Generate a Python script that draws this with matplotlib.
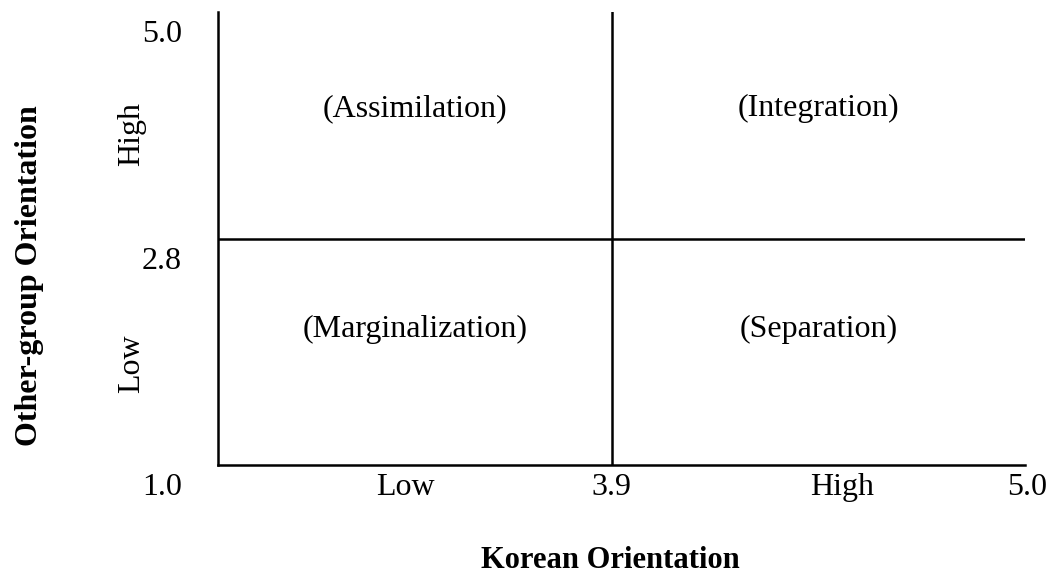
import matplotlib
matplotlib.use("Agg")
import matplotlib.pyplot as plt

# acculturation quadrants: cut points on each orientation scale
x_range = [1.0, 5.0]
x_cut = 3.9
y_range = [1.0, 5.0]
y_cut = 2.8

x_labels = ["Low", "High"]
y_labels = ["Low", "High"]
quadrants = [["(Marginalization)", "(Separation)"],
             ["(Assimilation)", "(Integration)"]]

plt.rcParams["font.family"] = ["Liberation Serif", "DejaVu Serif"]
FS = 23

W, H = 1057, 574
fig = plt.figure(figsize=(W / 100, H / 100), dpi=100)
ax = fig.add_axes([218 / W, 1 - 465 / H, 807 / W, 453 / H])
ax.set_xlim(0, 1)
ax.set_ylim(0, 1)

# schematic positions of the cut points (the scale is not linear in the figure)
xc, yc = 0.488, 0.499

for s in ["top", "right"]:
    ax.spines[s].set_visible(False)
for s in ["left", "bottom"]:
    ax.spines[s].set_linewidth(1.8)
ax.set_xticks([]); ax.set_yticks([])

ax.axvline(xc, color="black", lw=1.8)
ax.axhline(yc, color="black", lw=1.8)

# quadrant names
for i, yy in enumerate([0.30, 0.787]):
    for j, xx in enumerate([0.244, 0.744]):
        ax.text(xx, yy, quadrants[i][j], ha="center", va="center", fontsize=FS)

# x axis labels
ty = -0.05
ax.text(-0.045, ty, f"{x_range[0]:.1f}", ha="right", va="center", fontsize=FS)
ax.text(0.232, ty, x_labels[0], ha="center", va="center", fontsize=FS)
ax.text(xc, ty, f"{x_cut:.1f}", ha="center", va="center", fontsize=FS)
ax.text(0.774, ty, x_labels[1], ha="center", va="center", fontsize=FS)
ax.text(1.027, ty, f"{x_range[1]:.1f}", ha="right", va="center", fontsize=FS)

# y axis labels
ax.text(-0.045, 0.951, f"{y_range[1]:.1f}", ha="right", va="center", fontsize=FS)
ax.text(-0.045, 0.450, f"{y_cut:.1f}", ha="right", va="center", fontsize=FS)
ax.text(-0.107, 0.223, y_labels[0], ha="center", va="center", rotation=90, fontsize=FS)
ax.text(-0.107, 0.731, y_labels[1], ha="center", va="center", rotation=90, fontsize=FS)

fig.text(610 / W, 1 - 561 / H, "Korean Orientation", ha="center", va="center",
         fontsize=FS - 1, fontweight="bold")
fig.text(30 / W, 1 - 276 / H, "Other-group Orientation", ha="center", va="center",
         rotation=90, fontsize=FS, fontweight="bold")

fig.savefig("out.png", dpi=100)
